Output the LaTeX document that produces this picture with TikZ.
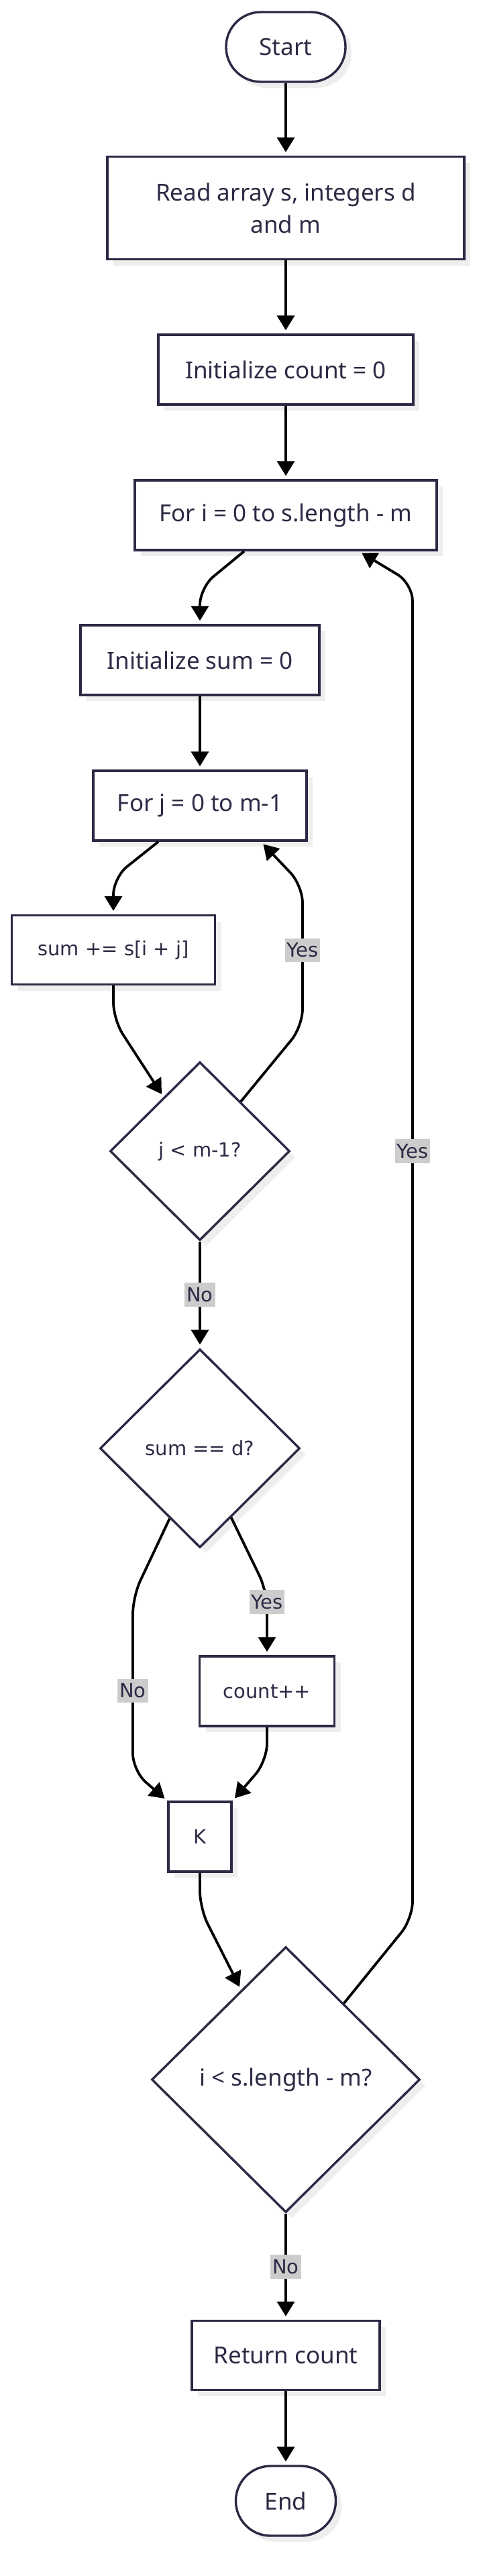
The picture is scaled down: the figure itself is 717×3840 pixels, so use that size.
\documentclass[tikz,border=0pt]{standalone}
\usepackage{fontspec}
\newfontfamily\plexf{Noto Sans}
\newfontfamily\dvf{DejaVu Sans}
\usetikzlibrary{shapes.geometric,shadows,arrows.meta,calc}
\definecolor{boxline}{HTML}{2A2A44}
\definecolor{txt}{HTML}{2B2B45}
\definecolor{shadowc}{HTML}{EEEEEE}
\definecolor{lblgray}{HTML}{CCCCCC}
\tikzset{
  base/.style={draw=boxline, line width=1.7pt, fill=white, text=txt,
    general shadow={fill=shadowc, shadow xshift=4.5pt, shadow yshift=-4.5pt},
    font=\plexf\fontsize{17.5}{24}\selectfont, inner sep=0pt},
  proc/.style={base, rectangle},
  term/.style={base, rectangle, rounded corners=25.9pt},
  dec/.style={base, diamond},
  dv/.style={font=\dvf\fontsize{14.5}{18}\selectfont},
  arr/.style={draw=black, line width=1.9pt, -{Triangle[length=11pt,width=13pt]},
    shorten >=2.5pt, rounded corners=13pt},
  lbl/.style={rectangle, sharp corners, draw=none, fill=lblgray, text=txt,
    font=\dvf\fontsize{14.5}{18}\selectfont,
    inner xsep=1.5pt, inner ysep=3.5pt}
}
\begin{document}
\begin{tikzpicture}[x=0.5pt, y=-0.5pt]
\useasboundingbox (0,0) rectangle (717,3840);
\fill[white] (0,0) rectangle (717,3840);

\node[term, minimum width=89pt, minimum height=52pt] (start) at (426,70) {Start};
\node[proc, minimum width=266pt, minimum height=76.5pt, align=center] (read) at (426,310) {Read array s, integers d\\and m};
\node[proc, minimum width=190pt, minimum height=52pt] (initc) at (426,551) {Initialize count = 0};
\node[proc, minimum width=225pt, minimum height=52pt] (fori) at (426,768) {For i = 0 to s.length - m};
\node[proc, minimum width=178pt, minimum height=52pt] (inits) at (298,984) {Initialize sum = 0};
\node[proc, minimum width=159pt, minimum height=52pt] (forj) at (298,1201) {For j = 0 to m-1};
\node[proc, dv, minimum width=151.5pt, minimum height=51.5pt] (sum) at (169,1416) {sum += s[i + j]};
\node[dec, dv, minimum width=134pt, minimum height=133pt] (dj) at (298,1716) {j < m-1?};
\node[dec, dv, minimum width=149pt, minimum height=148pt] (dsum) at (298,2159) {sum == d?};
\node[proc, dv, minimum width=100.5pt, minimum height=52pt] (cnt) at (398,2521) {count++};
\node[proc, dv, minimum width=47pt, minimum height=52pt] (K) at (298,2738) {K};
\node[dec, minimum width=200pt, minimum height=198pt] (di) at (426,3100) {i < s.length - m?};
\node[proc, minimum width=140pt, minimum height=51.5pt] (ret) at (426,3511) {Return count};
\node[term, minimum width=74.5pt, minimum height=52pt] (end) at (426,3728) {End};

\draw[arr] (start) -- (read);
\draw[arr] (read) -- (initc);
\draw[arr] (initc) -- (fori);
\draw[arr] ([xshift=-31pt]fori.south) -- (298,876) -- (inits.north);
\draw[arr] (inits) -- (forj);
\draw[arr] ([xshift=-31pt]forj.south) -- (169,1308) -- (sum.north);
\draw[arr] (sum.south) -- (169,1520) -- ($(dj.north)!0.4!(dj.west)$);
\draw[arr] ($(dj.north)!0.45!(dj.east)$) -- (451,1530) -- node[lbl, pos=0.54]{Yes} (451,1320) -- ([xshift=45.5pt]forj.south);
\draw[arr] (dj.south) -- node[lbl]{No} (dsum.north);
\draw[arr] ($(dsum.south)!0.3!(dsum.west)$) -- (198,2380) -- node[lbl, pos=0.54]{No} (198,2640) -- (K.north west);
\draw[arr] ($(dsum.south)!0.31!(dsum.east)$) -- (398,2372) -- node[lbl, pos=0.17]{Yes} (cnt.north);
\draw[arr] (cnt.south) -- (398,2625) -- (K.north east);
\draw[arr] (K.south) -- (298,2845) -- ($(di.north)!0.33!(di.west)$);
\draw[arr] ($(di.north)!0.43!(di.east)$) -- (615,2860) -- node[lbl, pos=0.575]{Yes} (615,870) -- ([xshift=54.5pt]fori.south);
\draw[arr] (di.south) -- node[lbl]{No} (ret.north);
\draw[arr] (ret) -- (end);
\end{tikzpicture}
\end{document}
